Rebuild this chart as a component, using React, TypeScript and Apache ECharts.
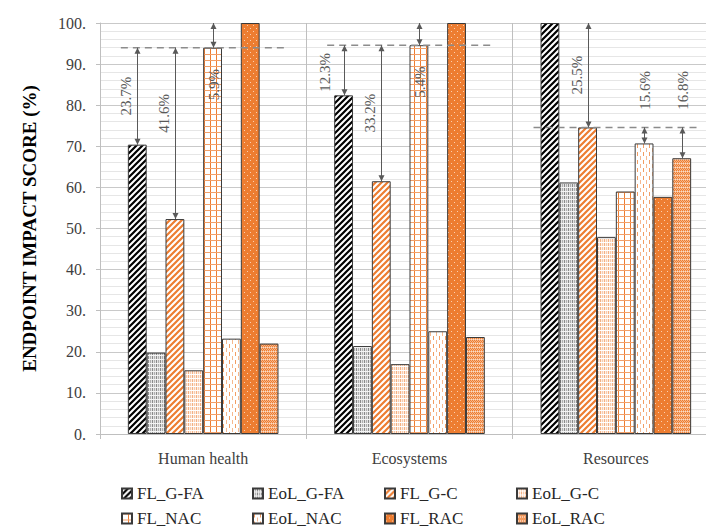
import React, { useEffect, useRef } from 'react';
import * as echarts from 'echarts';

// ---------- data ----------
const categories = ['Human health', 'Ecosystems', 'Resources'];
const seriesNames = ['FL_G-FA', 'EoL_G-FA', 'FL_G-C', 'EoL_G-C', 'FL_NAC', 'EoL_NAC', 'FL_RAC', 'EoL_RAC'];
const flGFA = [70.4, 82.4, 100.0];
const eolGFA = [19.8, 21.4, 61.2];
const flGC = [52.3, 61.5, 74.6];
const eolGC = [15.5, 17.0, 47.9];
const flNAC = [94.0, 94.6, 59.0];
const eolNAC = [23.2, 25.0, 70.7];
const flRAC = [100.0, 100.0, 57.7];
const eolRAC = [22.0, 23.6, 67.1];
const seriesValues = [flGFA, eolGFA, flGC, eolGC, flNAC, eolNAC, flRAC, eolRAC];

// reference (dashed) level per category
const referenceLevels = [94.0, 94.6, 74.6];

// double-headed arrows: category, bar slot, from value, to value, label
const arrowCategory = [0, 0, 0, 1, 1, 1, 2, 2, 2];
const arrowBar = [0, 2, 4, 0, 2, 4, 2, 5, 7];
const arrowFrom = [94.0, 94.0, 94.0, 94.6, 94.6, 94.6, 100.0, 74.6, 74.6];
const arrowTo = [70.4, 52.3, 100.0, 82.4, 61.5, 100.0, 74.6, 70.7, 67.1];
const arrowLabels = ['23.7%', '41.6%', '5.9%', '12.3%', '33.2%', '5.4%', '25.5%', '15.6%', '16.8%'];

// ---------- styling ----------
const ORANGE = '#ED7D31';
const SERIF = '"Liberation Serif", "Times New Roman", serif';
const GAP = 0.27;

function tile(w: number, h: number, draw: (c: CanvasRenderingContext2D) => void) {
  const cv = document.createElement('canvas');
  cv.width = w;
  cv.height = h;
  const c = cv.getContext('2d') as CanvasRenderingContext2D;
  draw(c);
  return { image: cv.toDataURL(), imageWidth: w, imageHeight: h, repeat: 'repeat' } as any;
}

function diag(color: string) {
  return tile(6, 6, (c) => {
    c.fillStyle = '#ffffff';
    c.fillRect(0, 0, 6, 6);
    c.strokeStyle = color;
    c.lineWidth = 2.2;
    c.beginPath();
    c.moveTo(-1, 7); c.lineTo(7, -1);
    c.moveTo(-1, 1); c.lineTo(1, -1);
    c.moveTo(5, 7); c.lineTo(7, 5);
    c.stroke();
  });
}

function makePatterns() {
  const p1 = diag('#000000');
  const p2 = tile(4, 4, (c) => {
    c.fillStyle = '#e2e2e2';
    c.fillRect(0, 0, 4, 4);
    c.fillStyle = '#8a8a8a';
    c.fillRect(0, 0, 1, 4);
    c.fillStyle = '#b0b0b0';
    c.fillRect(2, 0, 1, 4);
    c.fillStyle = '#f4f4f4';
    c.fillRect(0, 3, 4, 1);
  });
  const p3 = diag(ORANGE);
  const p4 = tile(4, 4, (c) => {
    c.fillStyle = '#fdeee4';
    c.fillRect(0, 0, 4, 4);
    c.fillStyle = '#f4b183';
    c.fillRect(0, 0, 1, 4);
    c.fillStyle = '#f8cbad';
    c.fillRect(2, 0, 1, 4);
    c.fillStyle = '#ffffff';
    c.fillRect(0, 2, 4, 1);
  });
  const p5 = tile(6, 6, (c) => {
    c.fillStyle = '#ffffff';
    c.fillRect(0, 0, 6, 6);
    c.fillStyle = ORANGE;
    c.fillRect(0, 0, 1, 6);
    c.fillStyle = '#f2a06a';
    c.fillRect(0, 0, 6, 1);
  });
  const p6 = tile(6, 8, (c) => {
    c.fillStyle = '#ffffff';
    c.fillRect(0, 0, 6, 8);
    c.fillStyle = '#f29d63';
    c.fillRect(1, 0, 1, 4);
    c.fillStyle = '#f6b88e';
    c.fillRect(4, 4, 1, 4);
  });
  const p7 = tile(6, 6, (c) => {
    c.fillStyle = ORANGE;
    c.fillRect(0, 0, 6, 6);
    c.fillStyle = '#f9cfb1';
    c.fillRect(1, 1, 1, 1);
    c.fillRect(4, 4, 1, 1);
  });
  const p8 = tile(4, 4, (c) => {
    c.fillStyle = '#f6b68b';
    c.fillRect(0, 0, 4, 4);
    c.fillStyle = ORANGE;
    c.fillRect(0, 0, 1, 1);
    c.fillRect(2, 0, 1, 1);
    c.fillRect(1, 1, 1, 1);
    c.fillRect(3, 1, 1, 1);
    c.fillRect(0, 2, 1, 1);
    c.fillRect(2, 2, 1, 1);
    c.fillStyle = '#fbdcc6';
    c.fillRect(1, 3, 1, 1);
    c.fillRect(3, 3, 1, 1);
  });
  return [p1, p2, p3, p4, p5, p6, p7, p8];
}

function barCenterX(api: any, cat: number, slot: number) {
  const band = api.size([1, 0])[0];
  const center = api.coord([cat, 0])[0];
  const groupW = band * (1 - GAP);
  const barW = groupW / seriesNames.length;
  return { x: center - groupW / 2 + (slot + 0.5) * barW, groupW, center };
}

// small layout nudges for some labels (pixels)
const LABEL_NUDGE: Record<string, [number, number]> = {
  '41.6%': [0, -20],
  '12.3%': [-8, 2],
};

export default function App() {
  const ref = useRef<HTMLDivElement>(null);

  useEffect(() => {
    if (!ref.current) return;
    const chart = echarts.init(ref.current, undefined, { renderer: 'svg' });
    const patterns = makePatterns();

    const barSeries = seriesNames.map((name, i) => ({
      name,
      type: 'bar',
      data: seriesValues[i],
      barGap: '0%',
      barCategoryGap: GAP * 100 + '%',
      itemStyle: { color: patterns[i], borderColor: '#3a3a3a', borderWidth: 1 },
      emphasis: { disabled: true },
    }));

    const dashedSeries = {
      type: 'custom',
      z: 5,
      silent: true,
      data: referenceLevels.map((v, i) => [i, v]),
      encode: { x: 0, y: 1 },
      renderItem: (params: any, api: any) => {
        const cat = api.value(0);
        const v = api.value(1);
        const { groupW, center } = barCenterX(api, cat, 0);
        const y = api.coord([cat, v])[1];
        return {
          type: 'line',
          shape: { x1: center - groupW / 2 - 7, y1: y, x2: center + groupW / 2 + 6, y2: y },
          style: { stroke: '#8c8c8c', lineWidth: 1.5, lineDash: [7, 5] },
        };
      },
    };

    const arrowSeries = {
      type: 'custom',
      z: 6,
      silent: true,
      data: arrowCategory.map((c, i) => [c, arrowFrom[i], arrowTo[i]]),
      encode: { x: 0, y: [1, 2] },
      renderItem: (params: any, api: any) => {
        const i = params.dataIndex;
        const cat = api.value(0);
        const from = api.value(1);
        const to = api.value(2);
        const { x: cx } = barCenterX(api, cat, arrowBar[i]);
        const x = Math.round(cx) + 0.5;
        const y1 = api.coord([cat, from])[1];
        const y2 = api.coord([cat, to])[1];
        const d1 = y2 > y1 ? 1 : -1;
        const head = (yt: number, dir: number) => ({
          type: 'polygon',
          shape: { points: [[x - 3, yt + dir * 6], [x, yt], [x + 3, yt + dir * 6]] },
          style: { fill: '#595959' },
        });
        const long = Math.abs(y2 - y1) > 40;
        let lx: number;
        let ly: number;
        if (long) {
          lx = x - 12;
          ly = (y1 + y2) / 2;
        } else {
          lx = x;
          ly = y1 - d1 * 37;
        }
        const nudge = LABEL_NUDGE[arrowLabels[i]];
        if (nudge) {
          lx += nudge[0];
          ly += nudge[1];
        }
        return {
          type: 'group',
          children: [
            {
              type: 'line',
              shape: { x1: x, y1: y1, x2: x, y2: y2 },
              style: { stroke: '#595959', lineWidth: 1 },
            },
            head(y1, d1),
            head(y2, -d1),
            {
              type: 'text',
              x: lx,
              y: ly,
              rotation: Math.PI / 2,
              style: {
                text: arrowLabels[i],
                fill: '#595959',
                font: '15px ' + SERIF,
                align: 'center',
                verticalAlign: 'middle',
              },
            },
          ],
        };
      },
    };

    const colX = [121, 252, 384, 516];
    const rowY = [485, 510];
    const legends = seriesNames.map((n, i) => ({
      data: [n],
      left: colX[i % 4],
      top: rowY[Math.floor(i / 4)],
      padding: 0,
      icon: 'rect',
      itemWidth: 10,
      itemHeight: 10,
      itemGap: 4,
      selectedMode: false,
      textStyle: { fontFamily: SERIF, fontSize: 17, color: '#262626' },
    }));

    chart.setOption({
      animation: false,
      legend: legends,
      grid: { left: 100, top: 23, width: 619, height: 411, containLabel: false },
      xAxis: {
        type: 'category',
        data: categories,
        axisLine: { show: true, lineStyle: { color: '#bfbfbf' } },
        axisTick: { show: true, length: 5, lineStyle: { color: '#bfbfbf' } },
        splitLine: { show: true, lineStyle: { color: '#bfbfbf' } },
        axisLabel: { fontFamily: SERIF, fontSize: 16, color: '#404040', margin: 16 },
      },
      yAxis: {
        type: 'value',
        min: 0,
        max: 100,
        interval: 10,
        name: 'ENDPOINT IMPACT SCORE (%)',
        nameLocation: 'middle',
        nameGap: 61,
        nameTextStyle: { fontFamily: SERIF, fontSize: 19, fontWeight: 'bold', color: '#000000' },
        axisLine: { show: true, lineStyle: { color: '#bfbfbf' } },
        axisTick: { show: true, length: 4, lineStyle: { color: '#bfbfbf' } },
        axisLabel: {
          fontFamily: SERIF,
          fontSize: 16,
          color: '#404040',
          margin: 14,
          formatter: (v: number) => v + '.',
        },
        splitLine: { show: true, lineStyle: { color: '#c9c9c9' } },
        minorTick: { show: false, splitNumber: 5 },
        minorSplitLine: { show: true, lineStyle: { color: '#e6e6e6' } },
      },
      series: [...barSeries, dashedSeries, arrowSeries],
    } as any);

    return () => chart.dispose();
  }, []);

  return (
    <div
      ref={ref}
      style={{ position: 'fixed', left: 0, top: 0, width: 722, height: 532, background: '#ffffff' }}
    />
  );
}
